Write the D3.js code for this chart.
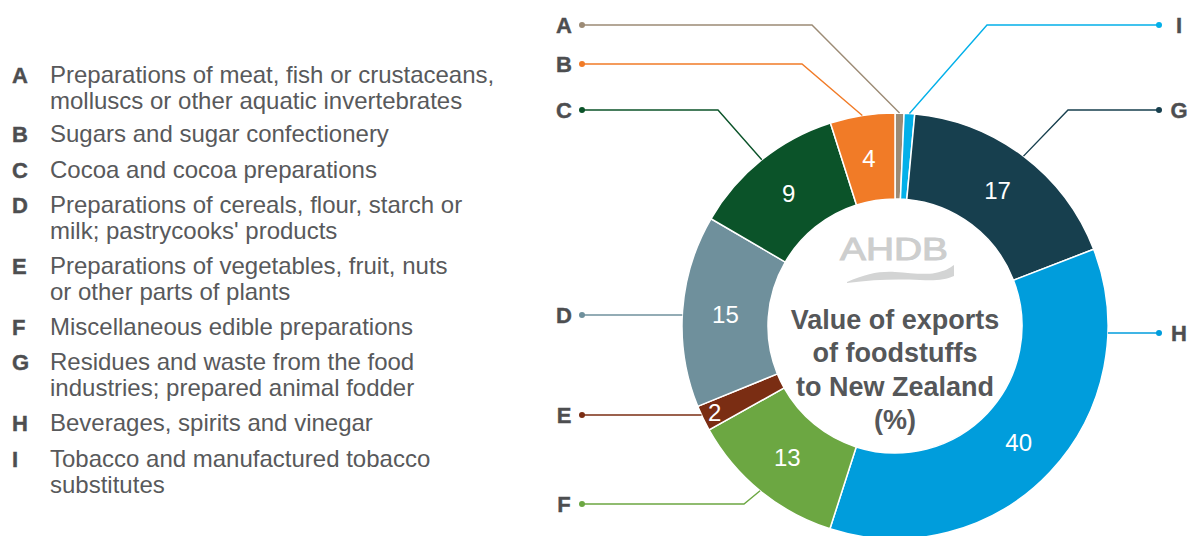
<!DOCTYPE html>
<html><head><meta charset="utf-8">
<script src="https://cdn.jsdelivr.net/npm/d3@7"></script>
<style>
html,body{margin:0;padding:0;background:#fff;}
svg{display:block;font-family:"Liberation Sans",Arial,Helvetica,sans-serif;}
</style></head>
<body><svg id="chart" width="1191" height="536"></svg>
<script>
// ---- data ----
const codes = ["A","B","C","D","E","F","G","H","I"];
const descriptions = [
  ["Preparations of meat, fish or crustaceans,","molluscs or other aquatic invertebrates"],
  ["Sugars and sugar confectionery"],
  ["Cocoa and cocoa preparations"],
  ["Preparations of cereals, flour, starch or","milk; pastrycooks' products"],
  ["Preparations of vegetables, fruit, nuts","or other parts of plants"],
  ["Miscellaneous edible preparations"],
  ["Residues and waste from the food","industries; prepared animal fodder"],
  ["Beverages, spirits and vinegar"],
  ["Tobacco and manufactured tobacco","substitutes"]
];
// slice shares as drawn in the ring (%)
const shares = [0.68, 4.9, 11.7, 14.55, 1.95, 11.95, 17.65, 35.8, 0.8];
// printed value labels
const valueLabels = ["", "4", "9", "15", "2", "13", "17", "40", ""];
// clockwise order from 12 o'clock
const ringOrder = ["A","I","G","H","F","E","D","C","B"];
const colors = {A:"#9c8b75",B:"#f17b27",C:"#0b5329",D:"#6f909c",E:"#7a2d13",F:"#6ca742",G:"#173f4e",H:"#009ddc",I:"#03b0e9"};
const titleLines = ["Value of exports","of foodstuffs","to New Zealand","(%)"];

// ---- layout ----
const svg = d3.select("#chart");
const cx = 895, cy = 326, R = 213, r0 = 127;
const textGrey = "#58595b", letterGrey = "#4d4e50";

// legend
const legendY = {A:75,B:134,C:170,D:205,E:266,F:327,G:362,H:423,I:459};
const lg = svg.append("g");
codes.forEach((c,i)=>{
  const y = legendY[c];
  lg.append("text").attr("x",12).attr("y",y).attr("dy","0.35em")
    .attr("font-size",22).attr("font-weight","bold").attr("fill",letterGrey)
    .attr("stroke",letterGrey).attr("stroke-width",0.4).text(c);
  descriptions[i].forEach((ln,j)=>{
    lg.append("text").attr("x",50).attr("y",y+j*25.5).attr("dy","0.35em")
      .attr("font-size",24).attr("fill",textGrey).text(ln);
  });
});

// ring
const ringData = ringOrder.map(c=>({code:c, share:shares[codes.indexOf(c)], label:valueLabels[codes.indexOf(c)]}));
const pie = d3.pie().sort(null).value(d=>d.share).startAngle(0).endAngle(2*Math.PI);
const arcs = pie(ringData);
const arc = d3.arc().innerRadius(r0).outerRadius(R);
const g = svg.append("g").attr("transform",`translate(${cx},${cy})`);
g.selectAll("path.slice").data(arcs).join("path").attr("class","slice")
  .attr("d",arc).attr("fill",d=>colors[d.data.code])
  .attr("stroke","#fff").attr("stroke-width",1.5);

g.selectAll("text.val").data(arcs.filter(d=>d.data.label)).join("text").attr("class","val")
  .attr("transform",d=>{
    const a=(d.startAngle+d.endAngle)/2;
    const rr = (d.endAngle-d.startAngle) < 0.2 ? 200 : (R+r0)/2;
    return `translate(${rr*Math.sin(a)},${-rr*Math.cos(a)})`;
  })
  .attr("text-anchor","middle").attr("dy","0.36em")
  .attr("font-size",24).attr("fill","#fff").text(d=>d.data.label);

// leader lines + outer letters
const leaders = {
  A:{side:"L",y:25,elbow:812}, B:{side:"L",y:64,elbow:802}, C:{side:"L",y:110,elbow:718},
  D:{side:"L",y:315,elbow:null}, E:{side:"L",y:415,elbow:null}, F:{side:"L",y:504,elbow:744},
  I:{side:"R",y:25,elbow:987}, G:{side:"R",y:110,elbow:1068}, H:{side:"R",y:333,elbow:null}
};
const lgLines = svg.append("g");
arcs.forEach(d=>{
  const c = d.data.code, L = leaders[c];
  const dotX = L.side==="L" ? 582 : 1159;
  let pts;
  if (L.elbow===null){
    const dy = L.y-cy;
    const ex = cx + (L.side==="L"?-1:1)*Math.sqrt(R*R-dy*dy);
    pts = [[dotX,L.y],[ex,L.y]];
  } else {
    const a=(d.startAngle+d.endAngle)/2;
    pts = [[dotX,L.y],[L.elbow,L.y],[cx+(R)*Math.sin(a), cy-(R)*Math.cos(a)]];
  }
  lgLines.append("path").attr("d",d3.line()(pts)).attr("fill","none")
    .attr("stroke",colors[c]).attr("stroke-width",1.4);
  lgLines.append("circle").attr("cx",dotX).attr("cy",L.y).attr("r",3).attr("fill",colors[c]);
  lgLines.append("text").attr("x",L.side==="L"?564:1179).attr("y",L.y).attr("dy","0.35em")
    .attr("text-anchor","middle").attr("font-size",22).attr("font-weight","bold")
    .attr("fill",letterGrey).attr("stroke",letterGrey).attr("stroke-width",0.4).text(c);
});

// centre logo
const logo = svg.append("g").attr("transform",`translate(${cx},${cy})`);
logo.append("text").attr("x",-1).attr("y",-66).attr("text-anchor","middle")
  .attr("font-size",31).attr("fill","#cdcece").attr("stroke","#cdcece").attr("stroke-width",1)
  .attr("textLength",108).attr("lengthAdjust","spacingAndGlyphs").text("AHDB");
logo.append("path")
  .attr("d","M-48,-44 C-30,-52 -15,-55 0,-54 C15,-53 30,-51 40,-53 C50,-55 55,-58 59,-61 L59,-50 C50,-46 40,-45 25,-46 C5,-47 -20,-47 -48,-43 Z")
  .attr("fill","#d3d4d4");

// centre title
titleLines.forEach((t,i)=>{
  svg.append("text").attr("x",cx).attr("y",329+i*33.3).attr("text-anchor","middle")
    .attr("font-size",27).attr("font-weight","bold").attr("fill","#555759").text(t);
});
</script></body></html>
